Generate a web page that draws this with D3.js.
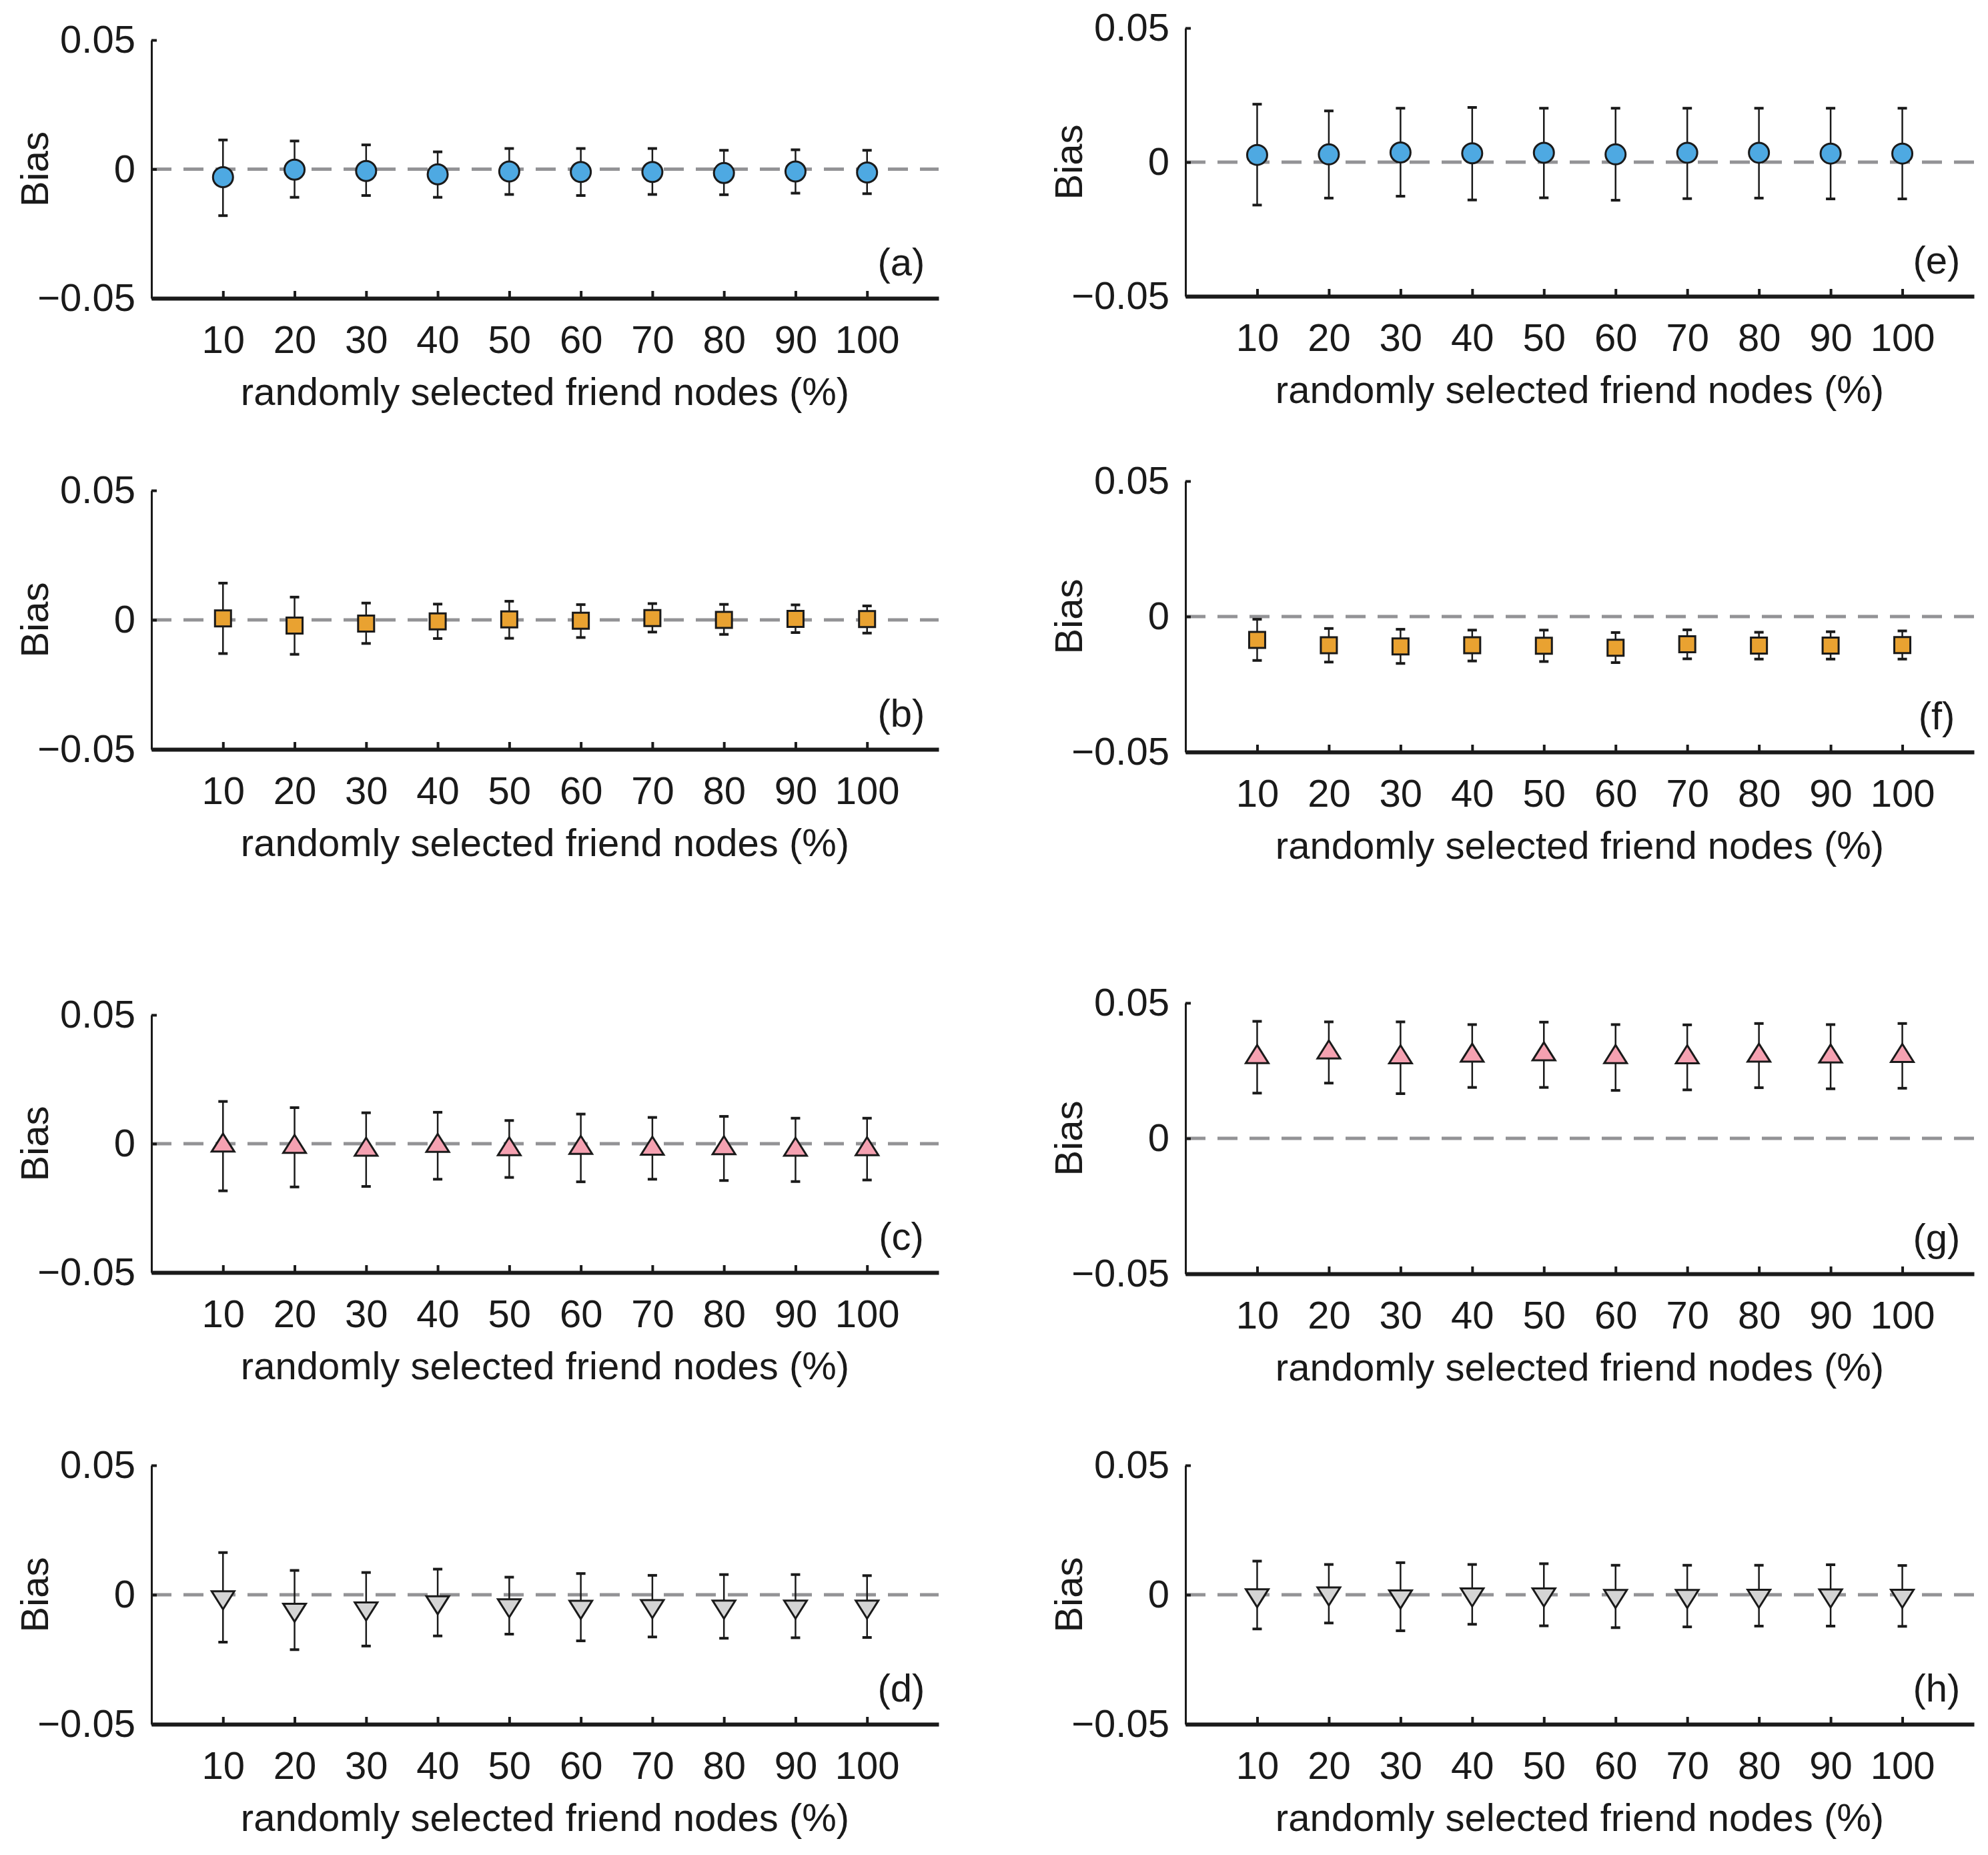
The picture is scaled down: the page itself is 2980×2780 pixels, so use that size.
<!DOCTYPE html>
<html>
<head>
<meta charset="utf-8">
<script src="https://cdn.jsdelivr.net/npm/d3@7"></script>
<style>
  body { margin: 0; background: #fff; }
  text { font-family: "Liberation Sans", Arial, sans-serif; fill: #1a1a1a; }
</style>
</head>
<body>
<div id="chart"></div>
<script>
// x positions (% of friend nodes)
const pct = [10, 20, 30, 40, 50, 60, 70, 80, 90, 100];
const yTicks = [-0.05, 0, 0.05];
const xLabel = 'randomly selected friend nodes (%)';

// (a) circles
const aMean = [-0.0031, -0.0002, -0.0007, -0.002, -0.0009, -0.0011, -0.0011, -0.0015, -0.0009, -0.0013];
const aLow  = [-0.018, -0.0109, -0.0102, -0.0109, -0.0098, -0.0102, -0.0098, -0.0099, -0.0093, -0.0095];
const aHigh = [0.0113, 0.0109, 0.0094, 0.0067, 0.008, 0.008, 0.008, 0.0073, 0.0075, 0.0073];
// (b) squares
const bMean = [0.0006, -0.0022, -0.0014, -0.0006, 0.0002, -0.0003, 0.0007, 0, 0.0004, 0.0003];
const bLow  = [-0.013, -0.0133, -0.0091, -0.0072, -0.0071, -0.0068, -0.0047, -0.0056, -0.0049, -0.0051];
const bHigh = [0.0142, 0.0088, 0.0065, 0.0061, 0.0072, 0.0059, 0.0063, 0.006, 0.0058, 0.0054];
// (c) triangles up
const cMean = [0.0003, -0.0002, -0.0013, 0.0002, -0.0011, -0.0006, -0.0009, -0.0007, -0.0013, -0.0011];
const cLow  = [-0.0183, -0.0168, -0.0166, -0.0138, -0.0131, -0.0148, -0.0138, -0.0143, -0.0147, -0.0141];
const cHigh = [0.0164, 0.014, 0.012, 0.0122, 0.009, 0.0115, 0.0102, 0.0106, 0.0099, 0.0099];
// (d) triangles down
const dMean = [-0.002, -0.0068, -0.0063, -0.0039, -0.0051, -0.0057, -0.0054, -0.0056, -0.0056, -0.0056];
const dLow  = [-0.0183, -0.0212, -0.0198, -0.0159, -0.0152, -0.0178, -0.0163, -0.0168, -0.0166, -0.0165];
const dHigh = [0.0163, 0.0094, 0.0086, 0.0099, 0.0068, 0.0082, 0.0075, 0.0078, 0.0078, 0.0074];
// (e) circles
const eMean = [0.0027, 0.0029, 0.0036, 0.0033, 0.0035, 0.0029, 0.0035, 0.0035, 0.0032, 0.0032];
const eLow  = [-0.016, -0.0134, -0.0127, -0.0141, -0.0133, -0.0142, -0.0136, -0.0134, -0.0137, -0.0137];
const eHigh = [0.0216, 0.0191, 0.0201, 0.0204, 0.0201, 0.0201, 0.0201, 0.0201, 0.0201, 0.0201];
// (f) squares
const fMean = [-0.0086, -0.0106, -0.011, -0.0106, -0.0108, -0.0115, -0.0102, -0.0107, -0.0107, -0.0105];
const fLow  = [-0.0162, -0.0168, -0.0173, -0.0164, -0.0166, -0.017, -0.0156, -0.0157, -0.0157, -0.0157];
const fHigh = [-0.001, -0.0044, -0.0047, -0.005, -0.005, -0.0059, -0.0049, -0.0058, -0.0056, -0.0053];
// (g) triangles up
const gMean = [0.031, 0.0327, 0.0309, 0.0315, 0.032, 0.031, 0.0309, 0.0315, 0.0312, 0.0314];
const gLow  = [0.0167, 0.0204, 0.0165, 0.0188, 0.0188, 0.0177, 0.0179, 0.0187, 0.0183, 0.0185];
const gHigh = [0.0432, 0.043, 0.043, 0.042, 0.0429, 0.042, 0.0419, 0.0424, 0.042, 0.0424];
// (h) triangles down
const hMean = [-0.0012, -0.0005, -0.0017, -0.0009, -0.0009, -0.0015, -0.0015, -0.0014, -0.0013, -0.0014];
const hLow  = [-0.0132, -0.0109, -0.0139, -0.0114, -0.012, -0.0127, -0.0124, -0.0121, -0.0121, -0.0122];
const hHigh = [0.013, 0.0117, 0.0124, 0.0117, 0.012, 0.0114, 0.0114, 0.0114, 0.0116, 0.0113];

const W = 2980, H = 2780;
const FS = 58;
const svg = d3.select('#chart').append('svg').attr('width', W).attr('height', H);

const colors = { circle: '#4ea9e2', square: '#e9a231', up: '#f5a1b1', down: '#d4d4d4' };

const panels = [
  { label: '(a)', left: 227, right: 1407, top: 60, bottom: 447, shape: 'circle', mean: aMean, low: aLow, high: aHigh },
  { label: '(b)', left: 227, right: 1407, top: 735, bottom: 1123, shape: 'square', mean: bMean, low: bLow, high: bHigh },
  { label: '(c)', left: 227, right: 1407, top: 1521, bottom: 1907, shape: 'up', mean: cMean, low: cLow, high: cHigh },
  { label: '(d)', left: 227, right: 1407, top: 2196, bottom: 2584, shape: 'down', mean: dMean, low: dLow, high: dHigh },
  { label: '(e)', left: 1777, right: 2959, top: 42, bottom: 444, shape: 'circle', mean: eMean, low: eLow, high: eHigh },
  { label: '(f)', left: 1777, right: 2959, top: 721, bottom: 1127, shape: 'square', mean: fMean, low: fLow, high: fHigh },
  { label: '(g)', left: 1777, right: 2959, top: 1503, bottom: 1909, shape: 'up', mean: gMean, low: gLow, high: gHigh },
  { label: '(h)', left: 1777, right: 2959, top: 2196, bottom: 2584, shape: 'down', mean: hMean, low: hLow, high: hHigh }
];

function markerPath(shape) {
  if (shape === 'up') return 'M0,-14 L17,13 L-17,13 Z';
  if (shape === 'down') return 'M0,14 L17,-13 L-17,-13 Z';
  if (shape === 'square') return 'M-12,-12 H12 V12 H-12 Z';
  return d3.symbol(d3.symbolCircle, Math.PI * 15 * 15)();
}

panels.forEach(p => {
  const x = d3.scaleLinear().domain([0, 110]).range([p.left, p.right]);
  const y = d3.scaleLinear().domain([-0.05, 0.05]).range([p.bottom, p.top]);
  const g = svg.append('g');

  // zero reference line
  g.append('line')
    .attr('x1', p.left).attr('x2', p.right)
    .attr('y1', y(0)).attr('y2', y(0))
    .attr('stroke', '#939396').attr('stroke-width', 5)
    .attr('stroke-dasharray', '30,18');

  // axes
  const yAxis = g.append('g').attr('transform', `translate(${p.left},0)`)
    .call(d3.axisLeft(y).tickValues(yTicks).tickSizeInner(-8).tickSizeOuter(0)
      .tickFormat(d => d === 0 ? '0' : d3.format('.2f')(d).replace('-', '\u2212')));
  yAxis.select('.domain').attr('stroke', '#1a1a1a').attr('stroke-width', 3);
  yAxis.selectAll('.tick line').attr('stroke', '#1a1a1a').attr('stroke-width', 4);
  yAxis.selectAll('.tick text').attr('x', -24).attr('font-size', FS)
    .attr('font-family', '"Liberation Sans", Arial, sans-serif').attr('fill', '#1a1a1a');

  const xAxis = g.append('g').attr('transform', `translate(0,${p.bottom})`)
    .call(d3.axisBottom(x).tickValues(pct).tickSizeInner(-11).tickSizeOuter(0));
  xAxis.select('.domain').attr('stroke', '#1a1a1a').attr('stroke-width', 6);
  xAxis.selectAll('.tick line').attr('stroke', '#1a1a1a').attr('stroke-width', 4);
  xAxis.selectAll('.tick text').attr('y', 41).attr('font-size', FS)
    .attr('font-family', '"Liberation Sans", Arial, sans-serif').attr('fill', '#1a1a1a');

  // labels
  g.append('text')
    .attr('x', (p.left + p.right) / 2).attr('y', p.bottom + 160)
    .attr('text-anchor', 'middle').attr('font-size', FS).text(xLabel);
  g.append('text')
    .attr('transform', `translate(${p.left - 155},${(p.top + p.bottom) / 2}) rotate(-90)`)
    .attr('text-anchor', 'middle').attr('font-size', FS).text('Bias');
  g.append('text')
    .attr('x', p.right - 56).attr('y', p.bottom - 34)
    .attr('text-anchor', 'middle').attr('font-size', FS).text(p.label);

  // error bars
  const rows = pct.map((v, i) => ({ v, m: p.mean[i], lo: p.low[i], hi: p.high[i] }));
  const eb = g.selectAll('.err').data(rows).enter().append('g').attr('class', 'err')
    .attr('stroke', '#1a1a1a').attr('stroke-width', 2.5);
  eb.append('line').attr('x1', d => x(d.v)).attr('x2', d => x(d.v))
    .attr('y1', d => y(d.lo)).attr('y2', d => y(d.hi));
  eb.append('line').attr('x1', d => x(d.v) - 7).attr('x2', d => x(d.v) + 7)
    .attr('y1', d => y(d.lo)).attr('y2', d => y(d.lo)).attr('stroke-width', 4);
  eb.append('line').attr('x1', d => x(d.v) - 7).attr('x2', d => x(d.v) + 7)
    .attr('y1', d => y(d.hi)).attr('y2', d => y(d.hi)).attr('stroke-width', 4);

  // markers
  g.selectAll('.mk').data(rows).enter().append('path').attr('class', 'mk')
    .attr('d', markerPath(p.shape))
    .attr('transform', d => `translate(${x(d.v)},${y(d.m)})`)
    .attr('fill', colors[p.shape]).attr('stroke', '#1a1a1a').attr('stroke-width', 3);
});
</script>
</body>
</html>
